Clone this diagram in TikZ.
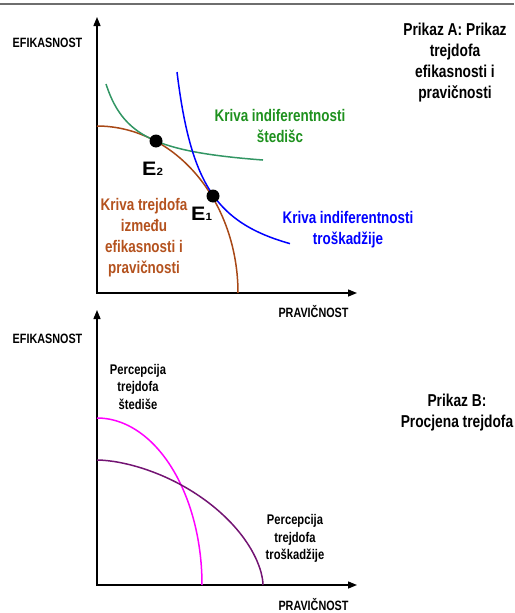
\documentclass[tikz,border=0pt]{standalone}
\usepackage{fontspec}
\setmainfont{Liberation Sans}[FakeStretch=0.8]
\newfontfamily\efont{Liberation Sans}[FakeStretch=1.1]
\usetikzlibrary{arrows.meta}
\definecolor{brownc}{RGB}{168,72,22}
\definecolor{browntxt}{RGB}{180,82,30}
\definecolor{greenc}{RGB}{50,150,100}
\definecolor{greentxt}{RGB}{30,145,30}
\definecolor{purplec}{RGB}{115,20,115}
\definecolor{magc}{RGB}{255,0,255}
\definecolor{frameg}{RGB}{110,110,110}
\begin{document}
\begin{tikzpicture}[x=1pt,y=-1pt,
  axisline/.style={line width=1.4pt,{Triangle[length=9pt,width=7pt]}-{Triangle[length=9pt,width=7pt]}},
  curve/.style={line width=1.5pt},
  bigtxt/.style={font=\bfseries\fontsize{16.8}{21}\selectfont,align=center,inner sep=0pt},
  tittxt/.style={font=\bfseries\fontsize{17.2}{21}\selectfont,align=center,inner sep=0pt},
  smalltxt/.style={font=\bfseries\fontsize{14}{17.5}\selectfont,align=center,inner sep=0pt},
  axtxt/.style={font=\bfseries\fontsize{13.5}{15}\selectfont,inner sep=0pt,anchor=base},
  eqdot/.style={circle,fill=black,minimum size=13pt,inner sep=0pt},
  elab/.style={inner sep=0pt,anchor=base west,font=\efont\bfseries}]
\useasboundingbox (0,0) rectangle (514,613);
\draw[line width=2pt,frameg] (0,3.5) -- (514,3.5);

% ---------- panel A ----------
\coordinate (YA) at (97,17);
\coordinate (OA) at (97,293);
\coordinate (XA) at (357,293);
\draw[axisline] (YA) |- (XA);
\node[axtxt] (efA) at (47.5,47) {EFIKASNOST};
\node[axtxt] (prA) at (313.5,317) {PRAVIČNOST};

\draw[curve,brownc] plot[domain=0:90,samples=80] ({97+141*cos(\x)},{293-167*sin(\x)});
\draw[curve,greenc] plot[domain=106:263,samples=80] (\x,{174.06-2611.7/(\x-77)});
\draw[curve,blue] plot[domain=177:290,samples=80] (\x,{282.5-5388/(\x-151.4)});

\node[eqdot] (E2) at (156,141) {};
\node[eqdot] (E1) at (213,196) {};
\node[elab] (E2lab) at (142,175) {\fontsize{19.5}{19.5}\selectfont E\fontsize{10.5}{10.5}\selectfont 2};
\node[elab] (E1lab) at (191,220) {\fontsize{19.5}{19.5}\selectfont E\fontsize{10.5}{10.5}\selectfont 1};

\node[bigtxt,greentxt] (gl) at (280,125.5) {Kriva indiferentnosti\\štedišc};
\node[bigtxt,blue] (bl) at (348,229.5) {Kriva indiferentnosti\\troškadžije};
\node[bigtxt,browntxt] (brl) at (144,238) {Kriva trejdofa\\između\\efikasnosti i\\pravičnosti};
\node[tittxt] (titA) at (455,63) {Prikaz A: Prikaz\\trejdofa\\efikasnosti i\\pravičnosti};

% ---------- panel B ----------
\coordinate (YB) at (97,310);
\coordinate (OB) at (97,585);
\coordinate (XB) at (357,585);
\draw[axisline] (YB) |- (XB);
\node[axtxt] (efB) at (47.5,343) {EFIKASNOST};
\node[axtxt] (prB) at (313.5,610) {PRAVIČNOST};

\draw[curve,magc] plot[domain=0:90,samples=80] ({97+105*cos(\x)},{585-167*sin(\x)});
\draw[curve,purplec] plot[domain=0.01:89.99,samples=90] ({97+166*pow(cos(\x),2/1.7)},{585-125*pow(sin(\x),2/1.7)});

\node[smalltxt] (pl1) at (138,386.5) {Percepcija\\trejdofa\\štediše};
\node[smalltxt] (pl2) at (295,538.5) {Percepcija\\trejdofa\\troškadžije};
\node[tittxt] (titB) at (457,413) {Prikaz B:\\Procjena trejdofa};
\end{tikzpicture}
\end{document}
